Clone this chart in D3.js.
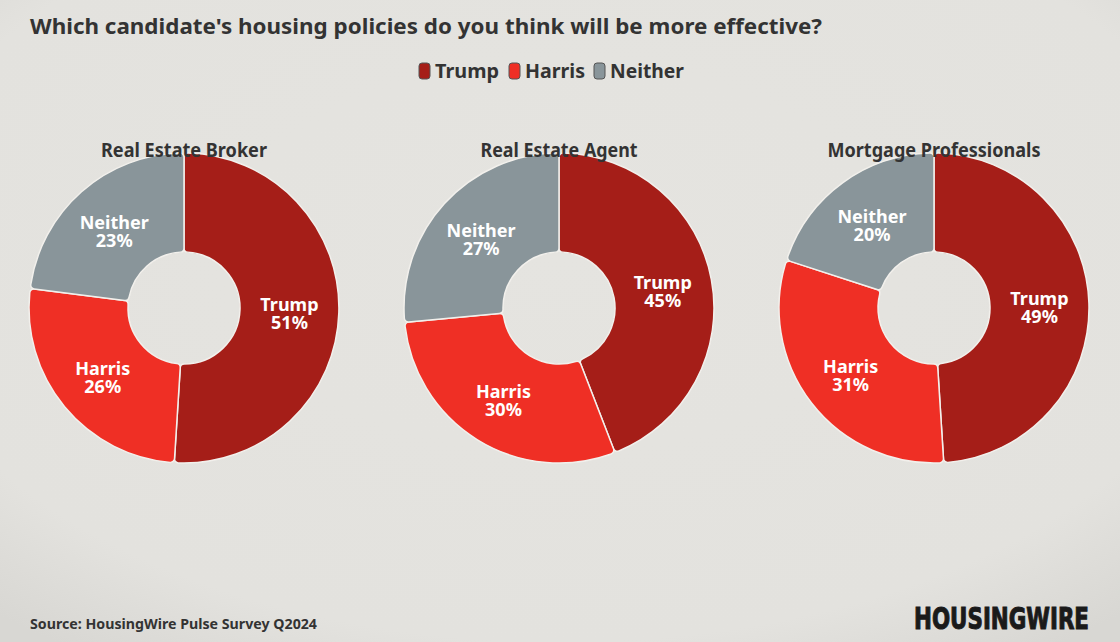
<!DOCTYPE html>
<html>
<head>
<meta charset="utf-8">
<script src="https://cdn.jsdelivr.net/npm/d3@7"></script>
<style>
  body { margin: 0; background: #e4e3df; }
  svg { display: block; }
  text { font-family: "Noto Sans", sans-serif; font-weight: 700; }
</style>
</head>
<body>
<div id="chart"></div>
<script>
var categories = ["Trump", "Harris", "Neither"];
var groups = ["Real Estate Broker", "Real Estate Agent", "Mortgage Professionals"];
var brokerValues = [51, 26, 23];
var agentValues = [45, 30, 27];
var mortgageValues = [49, 31, 20];
var colors = ["#a51e18", "#ef2f25", "#89959a"];

var width = 1120;
var height = 642;
var radius = 155;
var holeRadius = 56;

var svg = d3.select("#chart")
  .append("svg")
  .attr("width", width)
  .attr("height", height);

// slight vignette like the original background
var defs = svg.append("defs");
var grad = defs.append("radialGradient")
  .attr("id", "bg")
  .attr("cx", "50%").attr("cy", "40%").attr("r", "75%");
grad.append("stop").attr("offset", "0%").attr("stop-color", "#e5e4e0");
grad.append("stop").attr("offset", "80%").attr("stop-color", "#e3e2de");
grad.append("stop").attr("offset", "100%").attr("stop-color", "#d8d7d3");
svg.append("rect").attr("width", width).attr("height", height).attr("fill", "url(#bg)");

// title
svg.append("text")
  .attr("x", 30)
  .attr("y", 34)
  .attr("font-size", 22)
  .attr("fill", "#333333")
  .attr("textLength", 792)
  .attr("lengthAdjust", "spacingAndGlyphs")
  .text("Which candidate's housing policies do you think will be more effective?");

// legend
var color = d3.scaleOrdinal().domain(categories).range(colors);
var legendX = [419, 509, 594];
var legendW = [80, 76, 90];
var legend = svg.append("g").selectAll("g")
  .data(categories)
  .enter().append("g")
  .attr("transform", function(d, i) { return "translate(" + legendX[i] + ",63)"; });

legend.append("rect")
  .attr("width", 11)
  .attr("height", 16)
  .attr("rx", 3)
  .attr("fill", function(d) { return color(d); })
  .attr("stroke", "#555")
  .attr("stroke-width", 1);

legend.append("text")
  .attr("x", 16)
  .attr("y", 15)
  .attr("font-size", 20)
  .attr("fill", "#333333")
  .attr("textLength", function(d, i) { return legendW[i] - 16; })
  .attr("lengthAdjust", "spacingAndGlyphs")
  .text(function(d) { return d; });

// donuts
var centers = d3.scalePoint().domain(groups).range([184, 934]);
var seriesList = [brokerValues, agentValues, mortgageValues];
var titleW = [166, 157, 213];

var pie = d3.pie().sort(null).value(function(d) { return d.value; });
var arc = d3.arc().innerRadius(holeRadius).outerRadius(radius).cornerRadius(4);

groups.forEach(function(name, gi) {
  var data = categories.map(function(c, i) { return { label: c, value: seriesList[gi][i] }; });
  var g = svg.append("g")
    .attr("transform", "translate(" + centers(name) + ",308)");

  var slices = g.selectAll("g.arc")
    .data(pie(data))
    .enter().append("g")
    .attr("class", "arc");

  slices.append("path")
    .attr("d", arc)
    .attr("fill", function(d) { return color(d.data.label); })
    .attr("stroke", "#f2f0ec")
    .attr("stroke-width", 1.5);

  var lab = slices.append("text")
    .attr("transform", function(d) { return "translate(" + arc.centroid(d) + ")"; })
    .attr("text-anchor", "middle")
    .attr("font-size", 18)
    .attr("fill", "#ffffff");
  lab.append("tspan").attr("x", 0).attr("dy", "0em").text(function(d) { return d.data.label; });
  lab.append("tspan").attr("x", 0).attr("dy", "1em").text(function(d) { return d.data.value + "%"; });

  g.append("text")
    .attr("y", -151)
    .attr("text-anchor", "middle")
    .attr("font-size", 19)
    .attr("fill", "#333333")
    .attr("textLength", titleW[gi])
    .attr("lengthAdjust", "spacingAndGlyphs")
    .text(name);
});

// footer
svg.append("text")
  .attr("x", 30)
  .attr("y", 629)
  .attr("font-size", 15)
  .attr("fill", "#333333")
  .attr("textLength", 287)
  .attr("lengthAdjust", "spacingAndGlyphs")
  .text("Source: HousingWire Pulse Survey Q2024");

svg.append("text")
  .attr("x", 914)
  .attr("y", 629)
  .attr("font-size", 30)
  .attr("fill", "#1a1a1a")
  .attr("stroke", "#1a1a1a")
  .attr("stroke-width", 1)
  .style("font-family", "'DejaVu Sans Condensed', 'DejaVu Sans', sans-serif")
  .attr("textLength", 175)
  .attr("lengthAdjust", "spacingAndGlyphs")
  .text("HOUSINGWIRE");
</script>
</body>
</html>
